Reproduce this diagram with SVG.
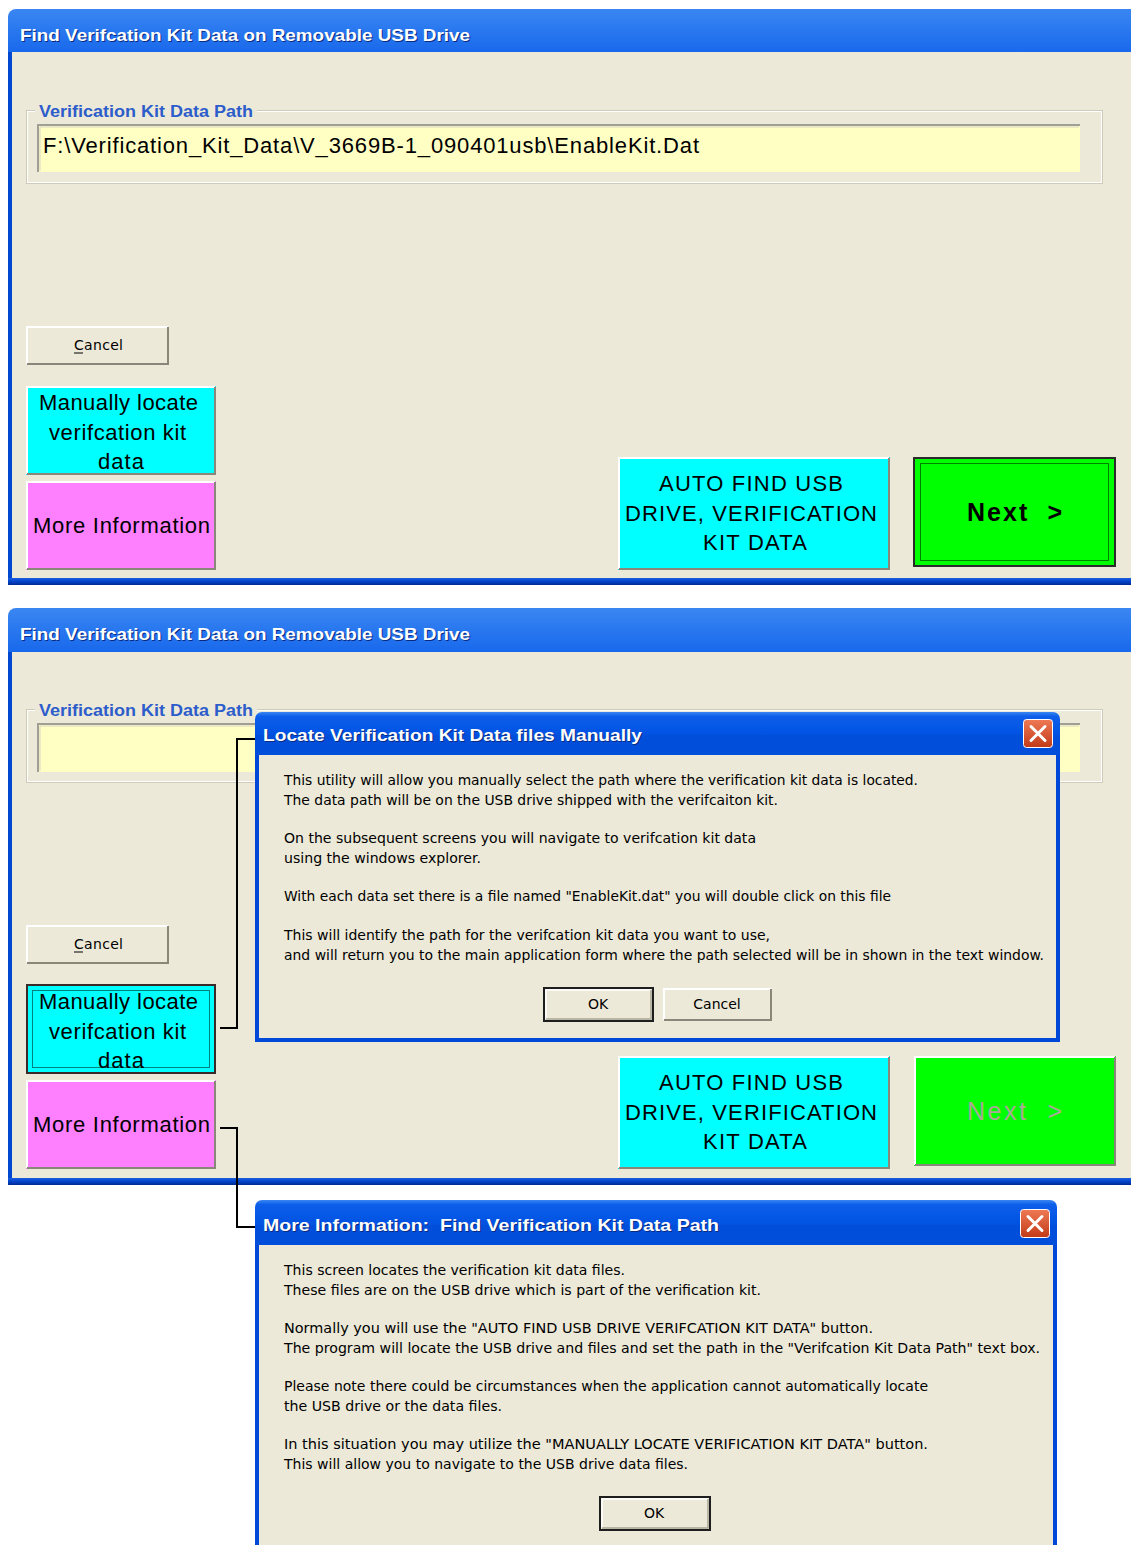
<svg xmlns="http://www.w3.org/2000/svg" width="1131" height="1545" viewBox="0 0 1131 1545">
<defs>
<linearGradient id="tb" x1="0" y1="0" x2="0" y2="1">
<stop offset="0" stop-color="#3A86F2"/><stop offset="0.1" stop-color="#0D5FEA"/><stop offset="0.45" stop-color="#0254E4"/><stop offset="0.85" stop-color="#004ED9"/><stop offset="1" stop-color="#003FC2"/>
</linearGradient>
<linearGradient id="bb" x1="0" y1="0" x2="0" y2="1">
<stop offset="0" stop-color="#1E5FE0"/><stop offset="0.5" stop-color="#0042C8"/><stop offset="1" stop-color="#002A90"/>
</linearGradient>
<linearGradient id="cl" x1="0" y1="0" x2="0" y2="1">
<stop offset="0" stop-color="#EE7A55"/><stop offset="1" stop-color="#C33A18"/>
</linearGradient>
<g id="closebtn">
<rect x="0.5" y="0.5" width="29" height="28" rx="3" fill="url(#cl)" stroke="#FFFFFF" stroke-width="1"/>
<path d="M8 7.5 L22 21.5 M22 7.5 L8 21.5" stroke="#FFFFFF" stroke-width="3" stroke-linecap="round"/>
</g>
</defs>
<style>
.title{font-family:"Liberation Sans",Arial,sans-serif;font-weight:bold;font-size:17px;fill:#FFFFFF;white-space:pre}
.tsh{font-family:"Liberation Sans",Arial,sans-serif;font-weight:bold;font-size:17px;fill:#0A2A80;white-space:pre}
.grp{font-family:"Liberation Sans",Arial,sans-serif;font-weight:bold;font-size:16px;fill:#2C5DCB}
.big{font-family:"Liberation Sans",Arial,sans-serif;font-size:22px;fill:#000000}
.sm{font-family:"DejaVu Sans","Liberation Sans",sans-serif;font-size:14px;fill:#000000}
.btn{font-family:"DejaVu Sans","Liberation Sans",sans-serif;font-size:14px;fill:#000000}
.body{fill:#ECE9D8}
.hi{stroke:#FFFFFF;stroke-width:2;fill:none}
.sh{stroke:#8A877A;stroke-width:2;fill:none}
.conn{stroke:#000000;stroke-width:2;fill:none}
</style>

<!-- Window 1 -->
<g id="window1">
<rect x="8" y="9" width="1140" height="576" rx="8" fill="url(#tb)"/>
<rect x="12" y="52" width="1130" height="526" class="body"/>
<rect x="8" y="578" width="1130" height="7" fill="url(#bb)"/>
<rect x="8" y="52" width="4" height="526" fill="#0048D0"/>
<text class="tsh" x="21" y="42" textLength="450" lengthAdjust="spacingAndGlyphs">Find Verifcation Kit Data on Removable USB Drive</text>
<text class="title" x="20" y="41" textLength="450" lengthAdjust="spacingAndGlyphs">Find Verifcation Kit Data on Removable USB Drive</text>
</g>
<g id="groupbox1">
<rect x="26.5" y="110.5" width="1076" height="73" fill="none" stroke="#CFCBBA"/>
<rect x="27.5" y="111.5" width="1074" height="71" fill="none" stroke="#FFFFFF"/>
<rect x="35" y="100" width="222" height="18" class="body"/>
<text class="grp" x="39" y="117" textLength="214" lengthAdjust="spacingAndGlyphs">Verification Kit Data Path</text>
</g>
<g id="textbox1">
<rect x="38" y="125" width="1042" height="47" fill="#FFFFC4"/>
<path d="M38 172 V125 H1080" stroke="#A09F95" stroke-width="2" fill="none"/>
<path d="M40 171 V127 H1079" stroke="#D8D5C6" stroke-width="1" fill="none"/>
<text class="big" x="43" y="153" textLength="656" lengthAdjust="spacing">F:\Verification_Kit_Data\V_3669B-1_090401usb\EnableKit.Dat</text>
</g>
<g id="cancel1">
<rect x="26" y="326" width="143" height="39" fill="#ECE9D8"/>
<path d="M27 364 V327 H168" class="hi"/>
<path d="M27 364 H168 V327" class="sh"/>
<text class="btn" x="74" y="350" textLength="49" lengthAdjust="spacing">Cancel</text>
<line x1="74" y1="353" x2="83" y2="353" stroke="#000" stroke-width="1"/>
</g>
<g id="manual1">
<rect x="26" y="386" width="190" height="89" fill="#00FFFF"/>
<path d="M27 474 V387 H215" class="hi"/>
<path d="M27 474 H215 V387" class="sh"/>
<text class="big" x="39" y="410" textLength="159" lengthAdjust="spacing">Manually locate</text>
<text class="big" x="49" y="440" textLength="137" lengthAdjust="spacing">verifcation kit</text>
<text class="big" x="98" y="469" textLength="46" lengthAdjust="spacing">data</text>
</g>
<g id="moreinfo1">
<rect x="26" y="481" width="190" height="89" fill="#FF80FF"/>
<path d="M27 569 V482 H215" class="hi"/>
<path d="M27 569 H215 V482" class="sh"/>
<text class="big" x="33" y="533" textLength="177" lengthAdjust="spacing">More Information</text>
</g>
<g id="autofind1">
<rect x="618" y="457" width="272" height="113" fill="#00FFFF"/>
<path d="M619 569 V458 H889" class="hi"/>
<path d="M619 569 H889 V458" class="sh"/>
<text class="big" x="659" y="491" textLength="184" lengthAdjust="spacing">AUTO FIND USB</text>
<text class="big" x="625" y="521" textLength="252" lengthAdjust="spacing">DRIVE, VERIFICATION</text>
<text class="big" x="703" y="550" textLength="104" lengthAdjust="spacing">KIT DATA</text>
</g>
<g id="next1">
<rect x="914" y="458" width="201" height="108" fill="#00FF00" stroke="#2B2B2B" stroke-width="2"/>
<rect x="920.5" y="463.5" width="188" height="97" fill="none" stroke="#000000" stroke-width="1" stroke-dasharray="1,1"/>
<text class="big" x="967" y="521" style="font-weight:bold;font-size:25px;white-space:pre" textLength="95" lengthAdjust="spacing">Next  &gt;</text>
</g>

<!-- Window 2 -->
<g id="window2">
<rect x="8" y="608" width="1140" height="577" rx="8" fill="url(#tb)"/>
<rect x="12" y="652" width="1130" height="526" class="body"/>
<rect x="8" y="1178" width="1130" height="7" fill="url(#bb)"/>
<rect x="8" y="652" width="4" height="526" fill="#0048D0"/>
<text class="tsh" x="21" y="641" textLength="450" lengthAdjust="spacingAndGlyphs">Find Verifcation Kit Data on Removable USB Drive</text>
<text class="title" x="20" y="640" textLength="450" lengthAdjust="spacingAndGlyphs">Find Verifcation Kit Data on Removable USB Drive</text>
</g>
<g id="groupbox2">
<rect x="26.5" y="709.5" width="1076" height="73" fill="none" stroke="#CFCBBA"/>
<rect x="27.5" y="710.5" width="1074" height="71" fill="none" stroke="#FFFFFF"/>
<rect x="35" y="699" width="222" height="18" class="body"/>
<text class="grp" x="39" y="716" textLength="214" lengthAdjust="spacingAndGlyphs">Verification Kit Data Path</text>
</g>
<g id="textbox2">
<rect x="38" y="724" width="1042" height="48" fill="#FFFFC4"/>
<path d="M38 772 V724 H1080" stroke="#A09F95" stroke-width="2" fill="none"/>
<path d="M40 771 V726 H1079" stroke="#D8D5C6" stroke-width="1" fill="none"/>
</g>
<g id="cancel2">
<rect x="26" y="925" width="143" height="39" fill="#ECE9D8"/>
<path d="M27 963 V926 H168" class="hi"/>
<path d="M27 963 H168 V926" class="sh"/>
<text class="btn" x="74" y="949" textLength="49" lengthAdjust="spacing">Cancel</text>
<line x1="74" y1="952" x2="83" y2="952" stroke="#000" stroke-width="1"/>
</g>
<g id="manual2">
<rect x="27" y="985" width="188" height="88" fill="#00FFFF" stroke="#3A2A2A" stroke-width="2"/>
<rect x="32.5" y="990.5" width="177" height="77" fill="none" stroke="#000000" stroke-width="1" stroke-dasharray="1,1"/>
<text class="big" x="39" y="1009" textLength="159" lengthAdjust="spacing">Manually locate</text>
<text class="big" x="49" y="1039" textLength="137" lengthAdjust="spacing">verifcation kit</text>
<text class="big" x="98" y="1068" textLength="46" lengthAdjust="spacing">data</text>
</g>
<g id="moreinfo2">
<rect x="26" y="1080" width="190" height="89" fill="#FF80FF"/>
<path d="M27 1168 V1081 H215" class="hi"/>
<path d="M27 1168 H215 V1081" class="sh"/>
<text class="big" x="33" y="1132" textLength="177" lengthAdjust="spacing">More Information</text>
</g>
<g id="autofind2">
<rect x="618" y="1056" width="272" height="113" fill="#00FFFF"/>
<path d="M619 1168 V1057 H889" class="hi"/>
<path d="M619 1168 H889 V1057" class="sh"/>
<text class="big" x="659" y="1090" textLength="184" lengthAdjust="spacing">AUTO FIND USB</text>
<text class="big" x="625" y="1120" textLength="252" lengthAdjust="spacing">DRIVE, VERIFICATION</text>
<text class="big" x="703" y="1149" textLength="104" lengthAdjust="spacing">KIT DATA</text>
</g>
<g id="next2">
<rect x="914" y="1056" width="202" height="110" fill="#00FF00"/>
<path d="M915 1165 V1057 H1115" class="hi"/>
<path d="M915 1165 H1115 V1057" class="sh"/>
<text class="big" x="967" y="1120" style="font-size:25px;white-space:pre;fill:#ACA899" textLength="95" lengthAdjust="spacing">Next  &gt;</text>
</g>

<!-- Connectors -->
<g id="connectors">
<polyline class="conn" points="220,1028 237,1028 237,739 256,739"/>
<polyline class="conn" points="220,1128 237,1128 237,1227 256,1227"/>
</g>

<!-- Dialog 1 -->
<g id="dialog-locate">
<rect x="255" y="740" width="805" height="302" fill="#0048D8"/>
<rect x="255" y="712" width="805" height="43" rx="7" fill="url(#tb)"/>
<rect x="255" y="735" width="805" height="20" fill="#004ED9"/>
<rect x="259" y="755" width="797" height="283" class="body"/>
<text class="tsh" x="264" y="742" textLength="379" lengthAdjust="spacingAndGlyphs">Locate Verification Kit Data files Manually</text>
<text class="title" x="263" y="741" textLength="379" lengthAdjust="spacingAndGlyphs">Locate Verification Kit Data files Manually</text>
<use href="#closebtn" x="1023" y="719"/>
<text class="sm" x="284" y="785" textLength="634" lengthAdjust="spacingAndGlyphs">This utility will allow you manually select the path where the verification kit data is located.</text>
<text class="sm" x="284" y="805" textLength="494" lengthAdjust="spacingAndGlyphs">The data path will be on the USB drive shipped with the verifcaiton kit.</text>
<text class="sm" x="284" y="843" textLength="472" lengthAdjust="spacingAndGlyphs">On the subsequent screens you will navigate to verifcation kit data</text>
<text class="sm" x="284" y="863" textLength="197" lengthAdjust="spacingAndGlyphs">using the windows explorer.</text>
<text class="sm" x="284" y="901" textLength="607" lengthAdjust="spacingAndGlyphs">With each data set there is a file named "EnableKit.dat" you will double click on this file</text>
<text class="sm" x="284" y="940" textLength="486" lengthAdjust="spacingAndGlyphs">This will identify the path for the verifcation kit data you want to use,</text>
<text class="sm" x="284" y="960" textLength="760" lengthAdjust="spacingAndGlyphs">and will return you to the main application form where the path selected will be in shown in the text window.</text>
<g id="ok1">
<rect x="544" y="988" width="109" height="33" fill="#ECE9D8" stroke="#1E1E1E" stroke-width="2"/>
<path d="M546 1019 V990 H651" stroke="#FFFFFF" stroke-width="1.5" fill="none"/>
<path d="M546 1019 H651 V990" stroke="#A8A595" stroke-width="1.5" fill="none"/>
<text class="btn" x="598" y="1009" text-anchor="middle">OK</text>
</g>
<g id="cancel-d1">
<rect x="663" y="988" width="109" height="33" fill="#ECE9D8"/>
<path d="M664 1020 V989 H771" class="hi"/>
<path d="M664 1020 H771 V989" class="sh"/>
<text class="btn" x="717" y="1009" text-anchor="middle">Cancel</text>
</g>
</g>

<!-- Dialog 2 -->
<g id="dialog-moreinfo">
<rect x="255" y="1230" width="802" height="330" fill="#0048D8"/>
<rect x="255" y="1200" width="802" height="45" rx="7" fill="url(#tb)"/>
<rect x="255" y="1225" width="802" height="20" fill="#004ED9"/>
<rect x="259" y="1245" width="794" height="310" class="body"/>
<text class="tsh" x="264" y="1232" textLength="456" lengthAdjust="spacingAndGlyphs">More Information:  Find Verification Kit Data Path</text>
<text class="title" x="263" y="1231" textLength="456" lengthAdjust="spacingAndGlyphs">More Information:  Find Verification Kit Data Path</text>
<use href="#closebtn" x="1020" y="1209"/>
<text class="sm" x="284" y="1275" textLength="341" lengthAdjust="spacingAndGlyphs">This screen locates the verification kit data files.</text>
<text class="sm" x="284" y="1295" textLength="477" lengthAdjust="spacingAndGlyphs">These files are on the USB drive which is part of the verification kit.</text>
<text class="sm" x="284" y="1333" textLength="589" lengthAdjust="spacingAndGlyphs">Normally you will use the "AUTO FIND USB DRIVE VERIFCATION KIT DATA" button.</text>
<text class="sm" x="284" y="1353" textLength="756" lengthAdjust="spacingAndGlyphs">The program will locate the USB drive and files and set the path in the "Verifcation Kit Data Path" text box.</text>
<text class="sm" x="284" y="1391" textLength="644" lengthAdjust="spacingAndGlyphs">Please note there could be circumstances when the application cannot automatically locate</text>
<text class="sm" x="284" y="1411" textLength="218" lengthAdjust="spacingAndGlyphs">the USB drive or the data files.</text>
<text class="sm" x="284" y="1449" textLength="644" lengthAdjust="spacingAndGlyphs">In this situation you may utilize the "MANUALLY LOCATE VERIFICATION KIT DATA" button.</text>
<text class="sm" x="284" y="1469" textLength="404" lengthAdjust="spacingAndGlyphs">This will allow you to navigate to the USB drive data files.</text>
<g id="ok2">
<rect x="600" y="1497" width="110" height="33" fill="#ECE9D8" stroke="#1E1E1E" stroke-width="2"/>
<path d="M602 1528 V1499 H708" stroke="#FFFFFF" stroke-width="1.5" fill="none"/>
<path d="M602 1528 H708 V1499" stroke="#A8A595" stroke-width="1.5" fill="none"/>
<text class="btn" x="654" y="1518" text-anchor="middle">OK</text>
</g>
</g>
</svg>
